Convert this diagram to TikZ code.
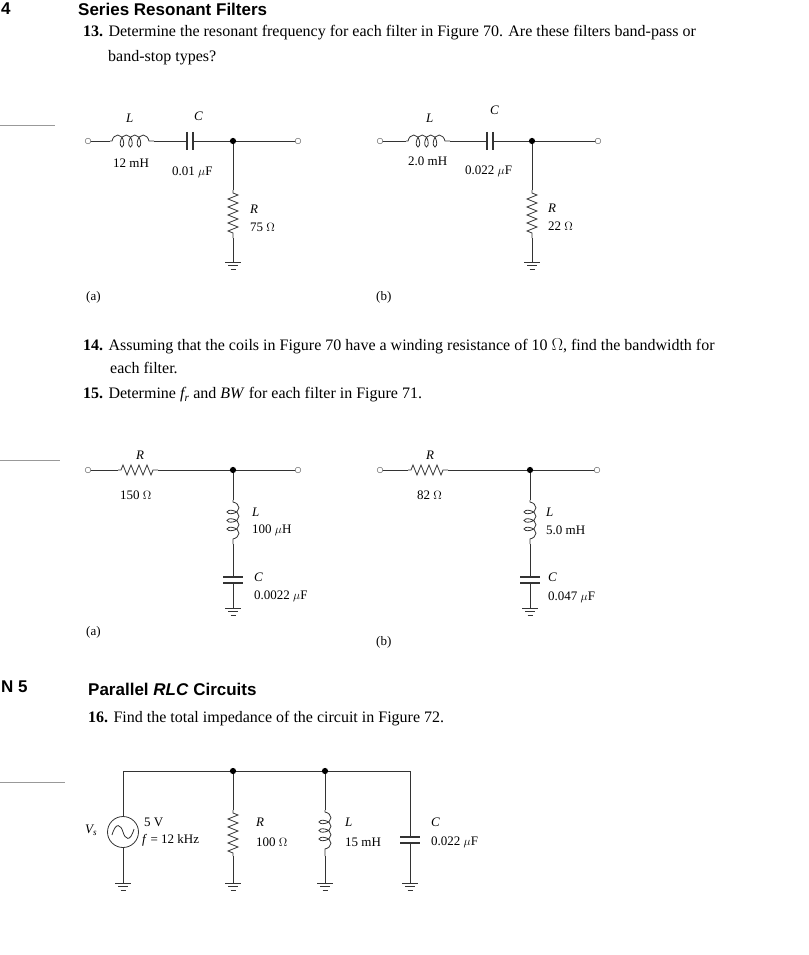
\documentclass[tikz,border=0pt]{standalone}
\usepackage{fontspec}
\setmainfont{Liberation Serif}
\newfontfamily\hd{Liberation Sans}
\usetikzlibrary{decorations.pathmorphing,decorations.pathreplacing}
\tikzset{
 w/.style={line width=0.8pt,black!80},
 res/.style={w,decorate,decoration={zigzag,segment length=8pt,amplitude=5pt,pre length=3pt,post length=3pt}},
 ind/.style={w,decorate,decoration={coil,aspect=0.6,segment length=8.5pt,amplitude=6pt,pre length=2pt,post length=2pt}},
 term/.style={circle,draw,black!70,fill=white,inner sep=2pt},
 dot/.style={circle,fill=black,inner sep=2.2pt},
 lab/.style={anchor=west,inner sep=0pt,font=\fontsize{13}{14}\selectfont},
 txt/.style={anchor=west,inner sep=0pt,font=\fontsize{16}{18}\selectfont},
 hdg/.style={anchor=west,inner sep=0pt,font=\hd\bfseries\fontsize{17}{18}\selectfont},
 rule/.style={black!40,line width=0.6pt}
}
\newcommand\gnd[2]{\draw[w,line width=1pt] (#1-8,#2)--(#1+8,#2) (#1-5,#2+3.5)--(#1+5,#2+3.5) (#1-2.5,#2+7)--(#1+2.5,#2+7);}
\newcommand\caph[2]{\draw[w,line width=1.1pt] (#1-3,#2-9)--(#1-3,#2+9) (#1+3,#2-9)--(#1+3,#2+9);}
\newcommand\capv[2]{\draw[w,line width=1.1pt] (#1-10,#2-3)--(#1+10,#2-3) (#1-10,#2+3)--(#1+10,#2+3);}
\begin{document}
\begin{tikzpicture}[x=1pt,y=-1pt]
\fill[white] (0,0) rectangle (808,955);
\useasboundingbox (0,0) rectangle (808,955);
% headings
\node[hdg] (h4) at (1,9) {4};
\node[hdg] (h1) at (78,9) {Series Resonant Filters};
\node[txt] (t13) at (83,33) {\textbf{13.} Determine the resonant frequency for each filter in Figure 70. Are these filters band-pass or};
\node[txt] (t13b) at (108,58) {band-stop types?};
\draw[rule] (0,125)--(55,125);
% Fig 70a
\coordinate (a1) at (88,141); \coordinate (a2) at (233,141); \coordinate (a3) at (298,141);
\draw[w] (a1)--(110,141); \draw[ind] (110,141)--(154,141); \draw[w] (154,141)--(187,141); \caph{190}{141}
\draw[w] (193,141)--(a3);
\draw[w] (a2)--(233,190); \draw[res] (233,190)--(233,238); \draw[w] (233,238)--(233,262); \gnd{233}{262}
\node[term] at (a1){}; \node[term] at (a3){}; \node[dot] at (a2){};
\node[lab] at (126,118){\textit{L}}; \node[lab] at (194,116){\textit{C}};
\node[lab] at (113,163){12 mH}; \node[lab] at (172,172){0.01 $\mu$F};
\node[lab] at (250,209){\textit{R}}; \node[lab] at (250,227){75 $\Omega$};
\node[lab] at (86,297){(a)};
% Fig 70b
\coordinate (b1) at (380,141); \coordinate (b2) at (532,141); \coordinate (b3) at (598,141);
\draw[w] (b1)--(406,141); \draw[ind] (406,141)--(450,141); \draw[w] (450,141)--(487,141); \caph{490}{141}
\draw[w] (493,141)--(b3);
\draw[w] (b2)--(532,190); \draw[res] (532,190)--(532,238); \draw[w] (532,238)--(532,262); \gnd{532}{262}
\node[term] at (b1){}; \node[term] at (b3){}; \node[dot] at (b2){};
\node[lab] at (426,118){\textit{L}}; \node[lab] at (490,110){\textit{C}};
\node[lab] at (408,161){2.0 mH}; \node[lab] at (465,171){0.022 $\mu$F};
\node[lab] at (548,208){\textit{R}}; \node[lab] at (548,226){22 $\Omega$};
\node[lab] at (376,297){(b)};
% text 14, 15
\node[txt] (t14) at (83,346) {\textbf{14.} Assuming that the coils in Figure 70 have a winding resistance of 10 $\Omega$, find the bandwidth for};
\node[txt] (t14b) at (110,368) {each filter.};
\node[txt] (t15) at (83,395) {\textbf{15.} Determine \textit{f\textsubscript{r}} and \textit{BW} for each filter in Figure 71.};
\draw[rule] (0,460)--(60,460);
% Fig 71a
\coordinate (c1) at (88,470); \coordinate (c2) at (233,470); \coordinate (c3) at (298,470);
\draw[w] (c1)--(118,470); \draw[res] (118,470)--(158,470); \draw[w] (158,470)--(c3);
\draw[w] (c2)--(233,500); \draw[ind] (233,500)--(233,544); \draw[w] (233,544)--(233,577); \capv{233}{580}
\draw[w] (233,583)--(233,608); \gnd{233}{608}
\node[term] at (c1){}; \node[term] at (c3){}; \node[dot] at (c2){};
\node[lab] at (136,455){\textit{R}}; \node[lab] at (120,495){150 $\Omega$};
\node[lab] at (252,512){\textit{L}}; \node[lab] at (252,530){100 $\mu$H};
\node[lab] at (254,577){\textit{C}}; \node[lab] at (254,596){0.0022 $\mu$F};
\node[lab] at (86,632){(a)};
% Fig 71b
\coordinate (d1) at (380,470); \coordinate (d2) at (530,470); \coordinate (d3) at (597,470);
\draw[w] (d1)--(408,470); \draw[res] (408,470)--(448,470); \draw[w] (448,470)--(d3);
\draw[w] (d2)--(530,500); \draw[ind] (530,500)--(530,544); \draw[w] (530,544)--(530,577); \capv{530}{580}
\draw[w] (530,583)--(530,608); \gnd{530}{608}
\node[term] at (d1){}; \node[term] at (d3){}; \node[dot] at (d2){};
\node[lab] at (426,455){\textit{R}}; \node[lab] at (417,495){82 $\Omega$};
\node[lab] at (546,512){\textit{L}}; \node[lab] at (546,530){5.0 mH};
\node[lab] at (548,577){\textit{C}}; \node[lab] at (548,597){0.047 $\mu$F};
\node[lab] at (376,642){(b)};
% section 5
\node[hdg] (h5) at (1,687) {N 5};
\node[hdg] (h2) at (88,689) {Parallel \textit{RLC} Circuits};
\node[txt] (t16) at (88,719) {\textbf{16.} Find the total impedance of the circuit in Figure 72.};
\draw[rule] (0,782)--(65,782);
% Fig 72
\coordinate (e1) at (123,771); \coordinate (e2) at (233,771); \coordinate (e3) at (325,771); \coordinate (e4) at (410,771);
\draw[w] (e1)--(e4);
\node[circle,draw,w,minimum size=31pt,inner sep=0pt] (vs) at (123,832) {};
\draw[w] (e1)--(vs.north); \draw[w] (vs.south)--(123,883); \gnd{123}{883}
\draw[w] (112,835) .. controls (116,821) and (121,825) .. (123,832) .. controls (125,839) and (130,843) .. (134,829);
\draw[w] (e2)--(233,810); \draw[res] (233,810)--(233,856); \draw[w] (233,856)--(233,883); \gnd{233}{883}
\draw[w] (e3)--(325,810); \draw[ind] (325,810)--(325,856); \draw[w] (325,856)--(325,883); \gnd{325}{883}
\draw[w] (e4)--(410,837); \capv{410}{840} \draw[w] (410,843)--(410,883); \gnd{410}{883}
\node[dot] at (e2){}; \node[dot] at (e3){};
\node[lab] at (85,830){\textit{V\textsubscript{s}}};
\node[lab] at (144,822){5 V}; \node[lab] at (142,840){\textit{f} = 12 kHz};
\node[lab] at (256,822){\textit{R}}; \node[lab] at (256,842){100 $\Omega$};
\node[lab] at (345,822){\textit{L}}; \node[lab] at (345,842){15 mH};
\node[lab] at (431,822){\textit{C}}; \node[lab] at (431,842){0.022 $\mu$F};
\end{tikzpicture}
\end{document}
